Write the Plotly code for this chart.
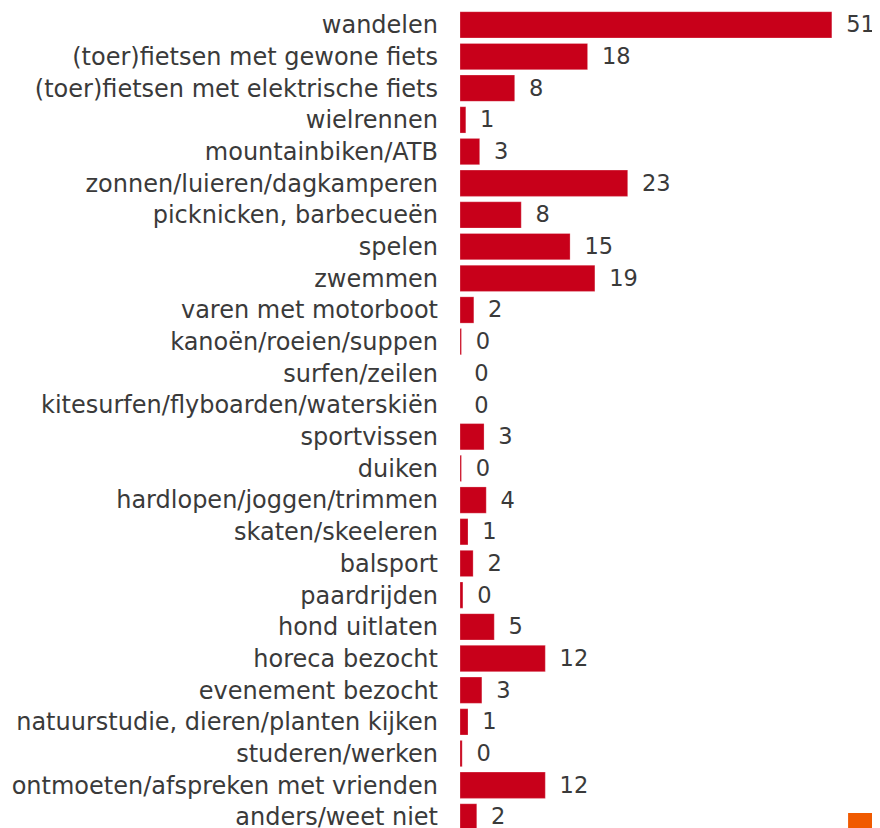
import plotly.graph_objects as go

categories = [
    "wandelen", "(toer)fietsen met gewone fiets", "(toer)fietsen met elektrische fiets",
    "wielrennen", "mountainbiken/ATB", "zonnen/luieren/dagkamperen",
    "picknicken, barbecueën", "spelen", "zwemmen", "varen met motorboot",
    "kanoën/roeien/suppen", "surfen/zeilen", "kitesurfen/flyboarden/waterskiën",
    "sportvissen", "duiken", "hardlopen/joggen/trimmen", "skaten/skeeleren",
    "balsport", "paardrijden", "hond uitlaten", "horeca bezocht",
    "evenement bezocht", "natuurstudie, dieren/planten kijken", "studeren/werken",
    "ontmoeten/afspreken met vrienden", "anders/weet niet",
]
values = [51.0, 17.5, 7.5, 0.8, 2.7, 23.0, 8.4, 15.1, 18.5, 1.9,
          0.2, 0.0, 0.0, 3.3, 0.2, 3.6, 1.1, 1.8, 0.4, 4.7,
          11.7, 3.0, 1.1, 0.3, 11.7, 2.3]
value_labels = [51, 18, 8, 1, 3, 23, 8, 15, 19, 2,
                0, 0, 0, 3, 0, 4, 1, 2, 0, 5,
                12, 3, 1, 0, 12, 2]

BAR_COLOR = "#c8001a"
TEXT_COLOR = "#3a3a3a"
FONT = "DejaVu Sans, Verdana, sans-serif"

fig = go.Figure()
fig.add_trace(go.Bar(
    x=values, y=categories, orientation="h",
    marker=dict(color=BAR_COLOR, line=dict(color="rgba(255,255,255,0.5)", width=0.5)),
    text=[f"\u2002{v}" for v in value_labels],
    textposition="outside", cliponaxis=False,
    textfont=dict(family=FONT, size=24, color=TEXT_COLOR),
    hoverinfo="skip",
))

fig.update_layout(
    width=872, height=820,
    margin=dict(l=452, r=0, t=1, b=0),
    paper_bgcolor="white", plot_bgcolor="white",
    font=dict(family=FONT, size=24, color=TEXT_COLOR),
    bargap=0.17, showlegend=False,
    xaxis=dict(range=[0, 57.6], visible=False, fixedrange=True),
    yaxis=dict(range=[25.35, -0.5], ticks="", showline=False, showgrid=False,
               ticklabelstandoff=21, automargin=False,
               tickfont=dict(family=FONT, size=24, color=TEXT_COLOR)),
    shapes=[dict(type="rect", xref="paper", yref="paper",
                 x0=0.924, x1=0.995, y0=0.0, y1=0.0183,
                 fillcolor="#f05a00", line=dict(width=0))],
)

fig.write_html("out.html")
